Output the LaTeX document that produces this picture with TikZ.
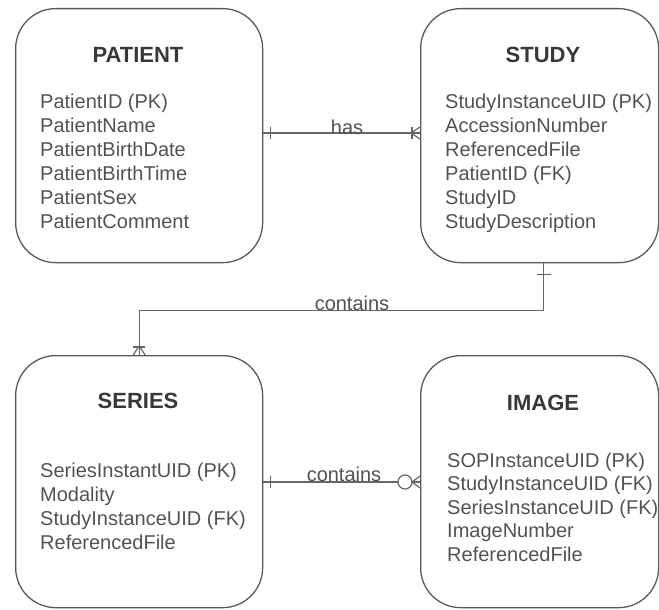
\documentclass[tikz,border=0pt]{standalone}
\usepackage{fontspec}
\setmainfont{Liberation Sans}
\begin{document}
\begin{tikzpicture}[x=1pt,y=-1pt,
  entity/.style={draw=black!65, line width=1.3pt, rounded corners=40pt,
    inner sep=0pt, anchor=north west},
  etitle/.style={font=\fontsize{22}{26}\selectfont\bfseries, text=black!78,
    anchor=base, inner sep=0pt},
  attr/.style={font=\fontsize{20}{24}\selectfont, text=black!68,
    anchor=base west, inner sep=0pt},
  rel/.style={draw=black!60, line width=1.2pt},
  rlabel/.style={font=\fontsize{20}{24}\selectfont, text=black!68,
    anchor=base, inner sep=0pt}]
\useasboundingbox (0,0) rectangle (659,610);

% entity boxes
\node[entity, minimum width=247pt, minimum height=254pt] (patient) at (15,8) {};
\node[entity, minimum width=238pt, minimum height=254pt] (study)   at (420,8) {};
\node[entity, minimum width=247pt, minimum height=252pt] (series)  at (15,355) {};
\node[entity, minimum width=238pt, minimum height=252pt] (image)   at (420,355) {};

% titles
\node[etitle] (ptitle)  at (138,63)  {PATIENT};
\node[etitle] (sttitle) at (543,63)  {STUDY};
\node[etitle] (setitle) at (138,408) {SERIES};
\node[etitle] (imtitle) at (543,410) {IMAGE};

% attributes
\foreach \t [count=\i from 0] in {PatientID (PK), PatientName, PatientBirthDate,
    PatientBirthTime, PatientSex, PatientComment}
  \node[attr] (pa\i) at (40,108+24*\i) {\t};
\foreach \t [count=\i from 0] in {StudyInstanceUID (PK), AccessionNumber,
    ReferencedFile, PatientID (FK), StudyID, StudyDescription}
  \node[attr] (sa\i) at (445,108+24*\i) {\t};
\foreach \t [count=\i from 0] in {SeriesInstantUID (PK), Modality,
    StudyInstanceUID (FK), ReferencedFile}
  \node[attr] (ra\i) at (40,477+24*\i) {\t};
\foreach \t [count=\i from 0] in {SOPInstanceUID (PK), StudyInstanceUID (FK),
    SeriesInstanceUID (FK), ImageNumber, ReferencedFile}
  \node[attr] (ia\i) at (447,467+23.5*\i) {\t};

% PATIENT -- STUDY : has
\coordinate (hasY) at (0,133);
\coordinate (hasA) at (patient.east |- hasY);
\coordinate (hasB) at (study.west |- hasY);
\draw[rel] (hasA) -- (hasB);
\draw[rel] (hasA) ++(7,-6) -- ++(0,12);
\draw[rel] (hasB) ++(0,-6) -- ++(-9,6) -- ++(9,6);
\draw[rel] (hasB) ++(-8,-6) -- ++(0,12);
\node[rlabel] (haslbl) at (347,135) {has};

% STUDY -- SERIES : contains
\coordinate (stB) at ([xshift=4pt]study.south);
\draw[rel] (stB) -- ++(0,47) -| (series.north);
\draw[rel] (stB) ++(-7,11) -- ++(14,0);
\draw[rel] (series.north) ++(-6,0) -- ++(6,-9) -- ++(6,9);
\draw[rel] (series.north) ++(-6,-8) -- ++(12,0);
\node[rlabel] (c1lbl) at (352,310) {contains};

% SERIES -- IMAGE : contains
\coordinate (c2Y) at (0,482);
\coordinate (c2A) at (series.east |- c2Y);
\coordinate (c2B) at (image.west |- c2Y);
\draw[rel] (c2A) -- (c2B);
\draw[rel] (c2A) ++(7,-6) -- ++(0,12);
\draw[rel, fill=white] (c2B) ++(-15,0) circle[radius=7pt];
\draw[rel] (c2B) ++(0,-6) -- ++(-8,6) -- ++(8,6);
\node[rlabel] (c2lbl) at (344,481) {contains};
\end{tikzpicture}
\end{document}
